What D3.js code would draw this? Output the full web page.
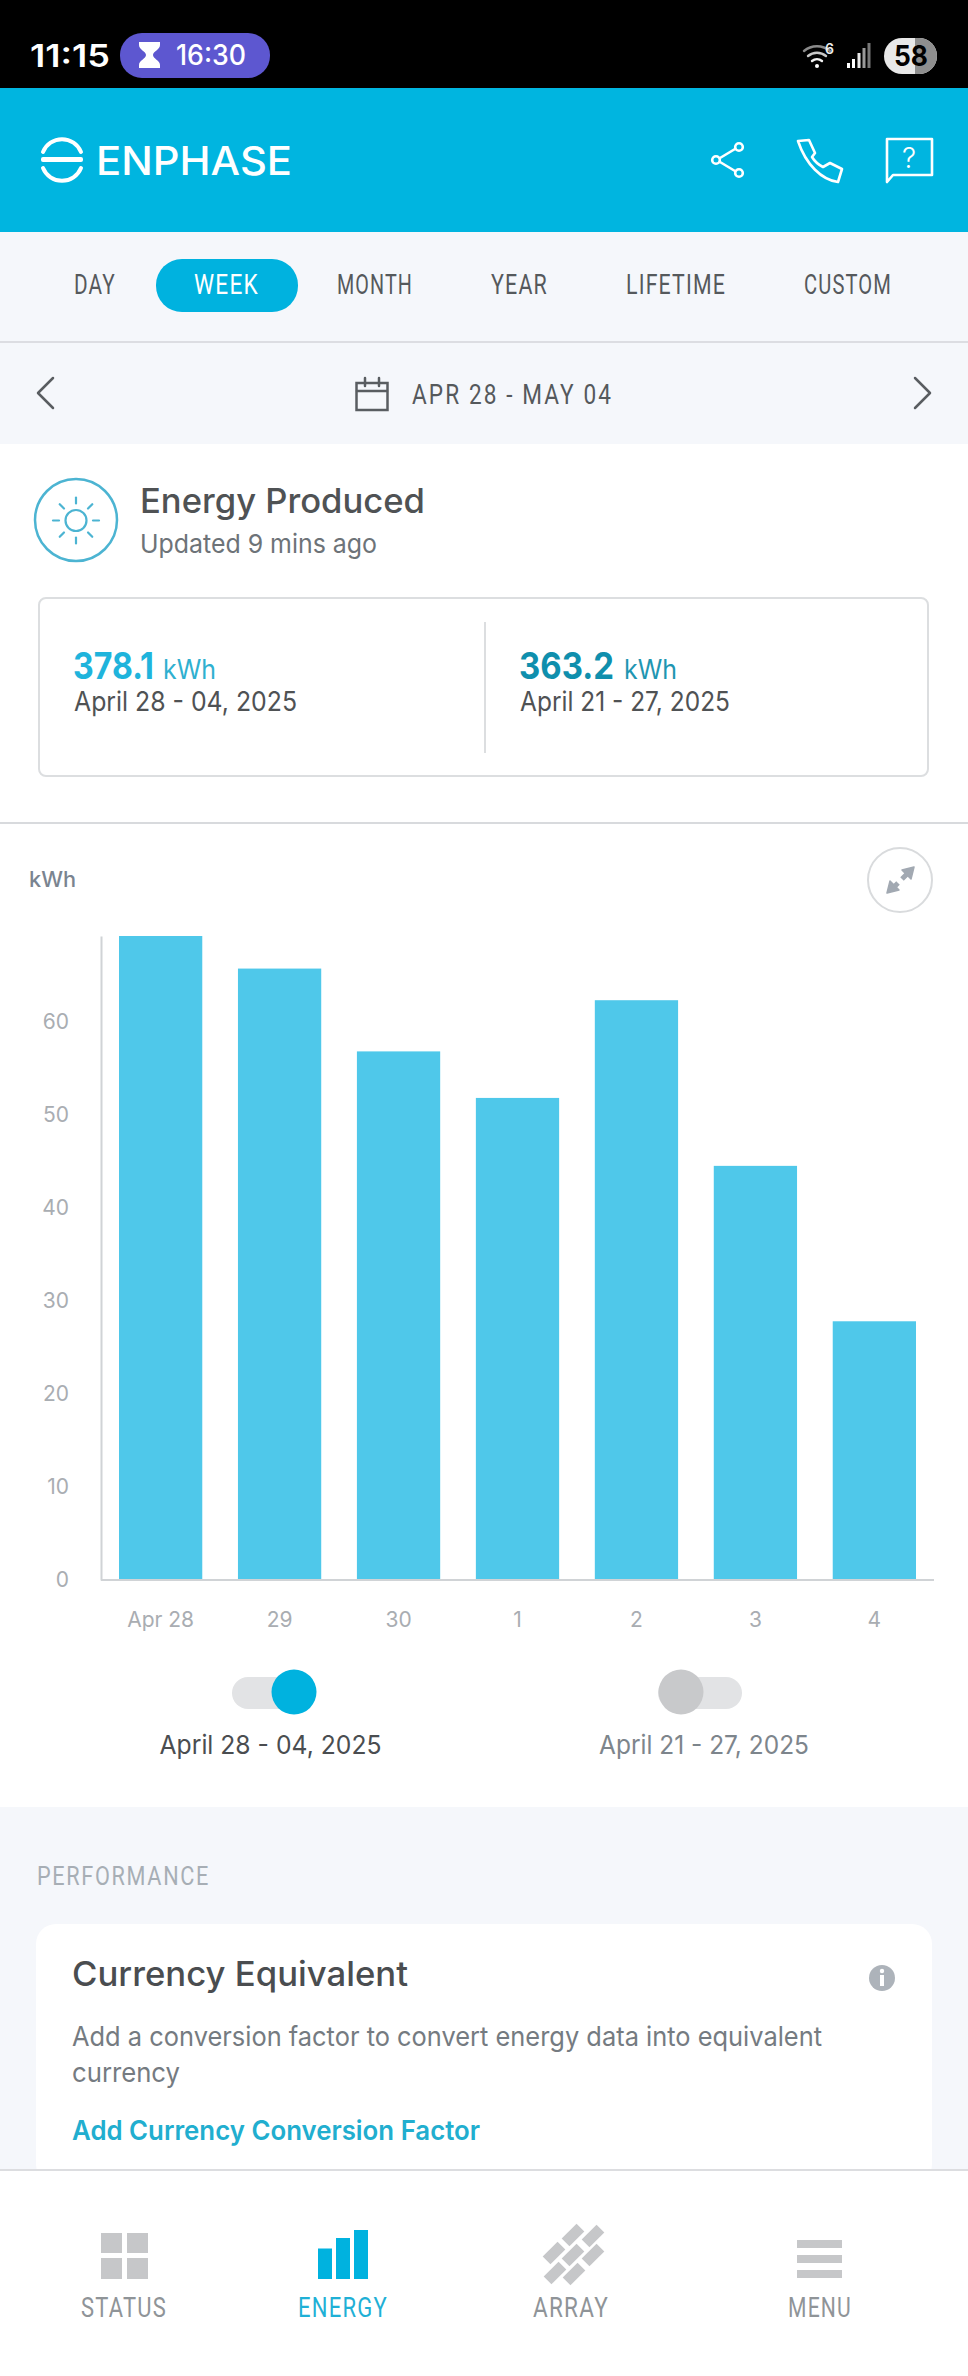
<!DOCTYPE html>
<html><head><meta charset="utf-8">
<script src="https://cdnjs.cloudflare.com/ajax/libs/d3/7.8.5/d3.min.js"></script>
<style>html,body{margin:0;padding:0;background:#fff}svg{display:block}</style></head>
<body><svg id="c" width="968" height="2376" viewBox="0 0 968 2376"></svg>
<script>
const categories = ["Apr 28","29","30","1","2","3","4"];
const kwhValues = [69.2,65.7,56.8,51.8,62.3,44.5,27.8];
const yTickValues = [0,10,20,30,40,50,60];
const tabLabels = ["DAY","WEEK","MONTH","YEAR","LIFETIME","CUSTOM"];
const navLabels = ["STATUS","ENERGY","ARRAY","MENU"];

const svg = d3.select("#c");
const SANS = "Inter, 'Noto Sans', sans-serif", NARROW = "'Liberation Sans Narrow', Roboto, sans-serif";
function rect(x,y,w,h,f,rx){return svg.append("rect").attr("x",x).attr("y",y).attr("width",w).attr("height",h).attr("fill",f).attr("rx",rx||0);}
function text(s,x,y,size,color,o){o=o||{};const t=svg.append("text").text(s).attr("x",x).attr("y",y)
  .attr("font-size",size).attr("fill",color).attr("font-family",o.font||SANS).attr("font-weight",o.w||400)
  .attr("text-anchor",o.a||"start");
  if(o.ls)t.attr("letter-spacing",o.ls);
  if(o.len)t.attr("textLength",o.len).attr("lengthAdjust","spacingAndGlyphs");return t;}
function path(d,stroke,sw,fill){return svg.append("path").attr("d",d).attr("fill",fill||"none").attr("stroke",stroke||"none").attr("stroke-width",sw||0).attr("stroke-linecap","round").attr("stroke-linejoin","round");}
function circle(cx,cy,r,fill,stroke,sw){return svg.append("circle").attr("cx",cx).attr("cy",cy).attr("r",r).attr("fill",fill||"none").attr("stroke",stroke||"none").attr("stroke-width",sw||0);}

// backgrounds
rect(0,0,968,2376,"#fff");
rect(0,0,968,88,"#000");
rect(0,88,968,144,"#00b5e0");
rect(0,232,968,212,"#f5f7fb");
rect(0,341,968,2,"#dcdde2");
rect(0,1807,968,362,"#f5f7fb");

// status bar
text("11:15",30,67,31,"#fff",{w:600,len:80});
rect(120,33,150,45,"#5d57d0",22);
path("M139 42h21v3c0 5-7 6-7 10s7 5 7 10v3h-21v-3c0-5 7-6 7-10s-7-5-7-10z",null,0,"#fff");
text("16:30",176,65,28,"#fff",{w:500,len:70});
path("M804 51a20 20 0 0 1 26 0","#8a8a8a",2.4);
path("M808 56a14 14 0 0 1 18 0","#c8c8c8",2.4);
path("M812 61a8 8 0 0 1 10 0","#f2f2f2",2.4);
circle(817,66,2,"#fff");
text("6",825,54,14,"#eee",{w:600});
[[847,63,"#fff"],[852,59,"#fff"],[857.500,53,"#e8e8e8"],[862.500,48,"#999"],[867.500,43,"#777"]].forEach(b=>rect(b[0],b[1],3,68-b[1],b[2]));
rect(884,38,53,36,"#e8e8e8",18);
svg.append("path").attr("d","M915 38h4a18 18 0 0 1 0 36h-4z").attr("fill","#8e8e8e");
text("58",911,66,29,"#000",{w:700,a:"middle",len:34});

// header
path("M43 152A20.500 20.500 0 0 1 81 152","#fff",4);
path("M43 168A20.500 20.500 0 0 0 81 168","#fff",4);
rect(41,157,42,5,"#fff",2);
text("ENPHASE",96,175,39,"#fff",{w:500,len:196});
circle(739,147,3.800,"none","#fff",2.600);circle(716,160,3.800,"none","#fff",2.600);circle(739,173,3.800,"none","#fff",2.600);
path("M720 158L735 149M720 162L735 171","#fff",2.600);
path("M798 141L809 140L815 153L812 157C815 162 819 165 823 167L830 163L842 169L838 182C822 180 806 165 798 141Z","#fff",2.600);
path("M887 139H932V175H893L887 182Z","#fff",2.600);
text("?",909,168,28,"#fff",{a:"middle",w:300});

// tabs
rect(156,259,142,53,"#00b2df",26);
const tabX=[[74,42],[194,65],[337,76],[491,57],[626,100],[804,88]];
tabLabels.forEach((l,i)=>text(l,tabX[i][0],294,27,i==1?"#fff":"#55595c",{font:NARROW,len:tabX[i][1],ls:1.5}));
path("M53 378L38 393L53 408","#595d61",2.5);
path("M915 378L930 393L915 408","#595d61",2.5);
svg.append("rect").attr("x",356.500).attr("y",383).attr("width",31).attr("height",27).attr("fill","none").attr("stroke","#595d61").attr("stroke-width",2.5);
path("M357 391h30M365 378v8M379 378v8","#595d61",2.5);
text("APR 28 - MAY 04",412,404,27,"#55595c",{font:NARROW,len:201,ls:2.5});

// energy heading
circle(76,520,41,"#fff","#4cb4d2",2.5);
circle(76,520.500,10.500,"none","#4cb4d2",2.2);
d3.range(8).forEach(i=>{const a=i*Math.PI/4,c=Math.cos(a),s=Math.sin(a);
 path(`M${76+c*17} ${520.500+s*17}L${76+c*23} ${520.500+s*23}`,"#4cb4d2",2.2);});
text("Energy Produced",140,513,34,"#4f5254",{w:500,len:285});
text("Updated 9 mins ago",140,553,26,"#6d7378",{len:237});

// summary card
svg.append("rect").attr("x",39).attr("y",598).attr("width",889).attr("height",178).attr("rx",7).attr("fill","#fff").attr("stroke","#dcdee0").attr("stroke-width",2);
rect(484,622,2,131,"#dcdee0");
text("378.1",73,679,37,"#1fb4dc",{w:700,len:81});
text("kWh",163,679,27,"#2fb0d0",{len:53});
text("April 28 - 04, 2025",74,711,27,"#4f5254",{len:223});
text("363.2",519,679,37,"#0f8fad",{w:700,len:95});
text("kWh",624,679,27,"#1f96b2",{len:53});
text("April 21 - 27, 2025",520,711,27,"#4f5254",{len:210});

// chart head
rect(0,822,968,2,"#d8dadd");
text("kWh",29,887,22,"#7a8490",{w:500,len:47});
circle(900,880,32,"#fff","#d9dbdd",2);
path("M908 873L902 879M892 889L898 883","#a2a9b2",5).attr("stroke-linecap","butt");
path("M914 867L902 870L911 879Z","#a2a9b2",1.5,"#a2a9b2");
path("M887 893L890 881L899 890Z","#a2a9b2",1.5,"#a2a9b2");

// chart
const y = d3.scaleLinear().domain([0,69.2]).range([1580,936]);
const x = d3.scaleBand().domain(categories).range([119,916]).paddingInner(0.3).paddingOuter(0);
svg.append("g").selectAll("rect").data(kwhValues).join("rect")
  .attr("x",(d,i)=>x(categories[i])).attr("y",d=>y(d)).attr("width",x.bandwidth())
  .attr("height",d=>y(0)-y(d)).attr("fill","#4fc8ea");
const gy = svg.append("g").attr("transform","translate(101,0)")
  .call(d3.axisLeft(y).tickValues(yTickValues).tickSize(0).tickPadding(32).tickFormat(d3.format("d")));
gy.select(".domain").attr("stroke","#d0d3d6").attr("stroke-width",2);
gy.selectAll("text").attr("font-size",21).attr("fill","#a9adb2").attr("font-family",SANS);
const gx = svg.append("g").attr("transform","translate(0,1580)")
  .call(d3.axisBottom(x).tickSize(0).tickPadding(32));
gx.select(".domain").remove();
gx.selectAll("text").attr("font-size",21).attr("fill","#a9adb2").attr("font-family",SANS);
rect(101,1579,833,2,"#d0d3d6");

// toggles
rect(232,1677,84,32,"#e2e3e5",16);
circle(294,1692,22.500,"#00b2df");
rect(658,1677,84,32,"#e2e3e5",16);
circle(681,1692,22.500,"#c8c9cb");
text("April 28 - 04, 2025",270.500,1754,26,"#4a4d50",{a:"middle",len:222});
text("April 21 - 27, 2025",704,1754,26,"#7d858c",{a:"middle",len:210});

// performance
text("PERFORMANCE",37,1885,26,"#a7aeb5",{font:NARROW,len:173,ls:2});
rect(36,1924,896,260,"#fff",20);
text("Currency Equivalent",72,1986,34,"#4a4d50",{w:500,len:336});
circle(882,1978,13,"#adb3ba");
circle(882,1971,2.200,"#fff");rect(880,1975,4,11,"#fff");
text("Add a conversion factor to convert energy data into equivalent",72,2046,27,"#757b81",{len:750});
text("currency",72,2082,27,"#757b81",{len:108});
text("Add Currency Conversion Factor",72,2140,27,"#21aecf",{w:600,len:408});

// bottom nav
rect(0,2169,968,207,"#fff");
rect(0,2169,968,2,"#dcdde0");
const GREY="#c6c7c9";
rect(101,2233,21,20,GREY);rect(127,2233,21,20,GREY);rect(101,2258,21,21,GREY);rect(127,2258,21,21,GREY);
rect(318,2248.500,14,30.500,"#00b2df");rect(336,2238,14,41,"#00b2df");rect(354,2230,14,49,"#00b2df");
[[573,2235],[593,2236],[554,2253],[573,2255],[593,2255],[555,2273],[574,2274]].forEach(p=>{
  svg.append("rect").attr("x",-10.500).attr("y",-5.500).attr("width",21).attr("height",11).attr("fill",GREY)
   .attr("transform",`translate(${p[0]},${p[1]}) rotate(-45)`);});
rect(797,2240,45,8,GREY);rect(797,2255,45,8,GREY);rect(797,2270,45,8,GREY);
const navX=[[81,86],[298,90],[533,76],[788,64]];
navLabels.forEach((l,i)=>text(l,navX[i][0],2317,27,i==1?"#1fb0d6":"#8f9498",{font:NARROW,len:navX[i][1],ls:1.5}));
</script></body></html>
